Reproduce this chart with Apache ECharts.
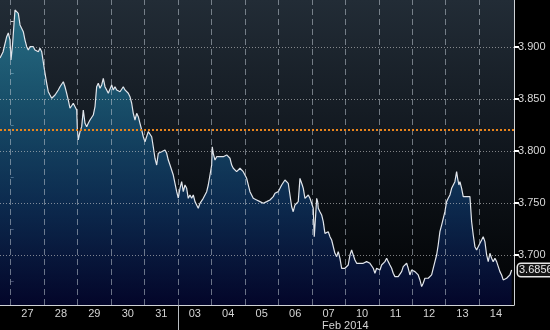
<!DOCTYPE html>
<html><head><meta charset="utf-8">
<script src="https://cdn.jsdelivr.net/npm/echarts@6/dist/echarts.min.js"></script>
<style>html,body{margin:0;padding:0;background:#000;}#c{width:550px;height:330px;}</style>
</head><body><div id="c"></div>
<script>
// x position in trading days since 27 Jan (day start = integer)
const dayPos = [-0.320,-0.230,-0.120,-0.072,-0.021,0.009,0.054,0.128,0.179,0.227,0.278,0.329,0.376,0.427,0.478,0.526,0.577,0.675,0.726,0.777,0.825,0.875,0.926,0.974,1.025,1.076,1.123,1.174,1.225,1.273,1.324,1.374,1.422,1.473,1.524,1.572,1.622,1.673,1.721,1.772,1.823,1.870,1.921,1.972,1.990,2.020,2.071,2.121,2.169,2.220,2.271,2.318,2.369,2.420,2.468,2.519,2.569,2.617,2.668,2.719,2.767,2.817,2.868,2.916,2.967,3.018,3.065,3.116,3.167,3.215,3.266,3.316,3.364,3.415,3.466,3.514,3.564,3.615,3.663,3.714,3.765,3.812,3.863,3.914,3.962,4.012,4.063,4.111,4.162,4.213,4.260,4.311,4.362,4.410,4.511,4.610,4.661,4.709,4.760,4.858,4.960,5.008,5.058,5.109,5.157,5.208,5.258,5.306,5.357,5.408,5.456,5.507,5.557,5.605,5.656,5.707,5.754,5.805,5.856,5.904,5.955,6.005,6.023,6.053,6.104,6.155,6.253,6.352,6.454,6.552,6.603,6.651,6.752,6.851,6.949,7.051,7.150,7.248,7.350,7.449,7.547,7.649,7.747,7.846,7.897,7.995,8.097,8.195,8.246,8.294,8.345,8.396,8.443,8.494,8.545,8.593,8.644,8.674,8.713,8.743,8.793,8.844,8.892,8.943,8.993,9.041,9.071,9.113,9.143,9.173,9.191,9.241,9.292,9.340,9.390,9.441,9.489,9.540,9.591,9.639,9.689,9.740,9.788,9.839,9.890,9.937,9.988,10.039,10.087,10.138,10.188,10.236,10.287,10.338,10.386,10.436,10.487,10.535,10.586,10.636,10.684,10.735,10.786,10.834,10.884,10.935,10.983,11.034,11.084,11.132,11.183,11.234,11.282,11.332,11.383,11.431,11.482,11.533,11.580,11.631,11.682,11.730,11.781,11.832,11.879,11.930,11.981,12.029,12.080,12.130,12.178,12.229,12.280,12.327,12.378,12.429,12.477,12.527,12.578,12.626,12.677,12.728,12.775,12.826,12.877,12.925,12.976,13.026,13.074,13.125,13.176,13.224,13.274,13.325,13.355,13.394,13.424,13.475,13.523,13.573,13.624,13.672,13.723,13.774,13.822,13.872,13.923,13.971,14.022,14.072,14.120,14.171,14.222,14.270,14.320,14.371,14.419,14.470,14.521,14.568,14.619,14.670,14.718,14.769,14.819,14.867,14.918,14.969];
const prices = [3.8894,3.8952,3.9099,3.9135,3.9067,3.8875,3.9019,3.9356,3.9372,3.9324,3.9212,3.9195,3.9147,3.9067,3.9003,3.8971,3.9003,3.9003,3.8971,3.8988,3.8955,3.8988,3.8955,3.8939,3.8747,3.8651,3.8570,3.8538,3.8507,3.8522,3.8538,3.8555,3.8587,3.8618,3.8635,3.8666,3.8618,3.8555,3.8490,3.8411,3.8426,3.8459,3.8474,3.8394,3.8218,3.8106,3.8186,3.8234,3.8394,3.8266,3.8234,3.8266,3.8298,3.8314,3.8346,3.8426,3.8618,3.8651,3.8603,3.8635,3.8699,3.8618,3.8587,3.8555,3.8538,3.8635,3.8587,3.8618,3.8587,3.8603,3.8570,3.8587,3.8618,3.8587,3.8570,3.8555,3.8522,3.8459,3.8362,3.8298,3.8362,3.8330,3.8266,3.8202,3.8137,3.8089,3.8106,3.8186,3.8202,3.8137,3.8041,3.7930,3.7865,3.7978,3.7993,3.8010,3.7978,3.7913,3.7865,3.7769,3.7609,3.7548,3.7641,3.7705,3.7609,3.7673,3.7641,3.7545,3.7577,3.7545,3.7577,3.7513,3.7481,3.7449,3.7497,3.7513,3.7545,3.7561,3.7609,3.7673,3.7769,3.7865,3.8041,3.7978,3.7913,3.7945,3.7945,3.7945,3.7962,3.7930,3.7865,3.7834,3.7801,3.7834,3.7801,3.7737,3.7609,3.7545,3.7529,3.7513,3.7497,3.7513,3.7529,3.7561,3.7593,3.7609,3.7673,3.7721,3.7705,3.7689,3.7577,3.7464,3.7416,3.7481,3.7464,3.7513,3.7737,3.7753,3.7673,3.7641,3.7545,3.7561,3.7577,3.7545,3.7561,3.7449,3.7176,3.7385,3.7545,3.7513,3.7449,3.7416,3.7385,3.7321,3.7208,3.7192,3.7224,3.7176,3.7144,3.7128,3.7016,3.6984,3.7032,3.6968,3.6872,3.6872,3.6872,3.6888,3.6904,3.7000,3.7048,3.7000,3.6952,3.6920,3.6911,3.6920,3.6904,3.6920,3.6904,3.6936,3.6952,3.6920,3.6904,3.6872,3.6824,3.6872,3.6888,3.6856,3.6904,3.6888,3.6936,3.6968,3.6936,3.6904,3.6872,3.6824,3.6792,3.6792,3.6792,3.6808,3.6840,3.6888,3.6904,3.6920,3.6872,3.6808,3.6856,3.6846,3.6840,3.6840,3.6808,3.6760,3.6696,3.6728,3.6776,3.6760,3.6776,3.6776,3.6808,3.6872,3.6936,3.7000,3.7096,3.7224,3.7288,3.7305,3.7416,3.7513,3.7545,3.7577,3.7641,3.7625,3.7705,3.7801,3.7737,3.7673,3.7705,3.7641,3.7561,3.7577,3.7561,3.7577,3.7561,3.7320,3.7192,3.7080,3.7048,3.7080,3.7112,3.7144,3.7176,3.7128,3.7000,3.6936,3.7016,3.6968,3.6936,3.6968,3.6936,3.6936,3.6840,3.6808,3.6760,3.6776,3.6776,3.6792,3.6808,3.6856];
const dayLabels = ['27','28','29','30','31','03','04','05','06','07','10','11','12','13','14'];
const dayCenters = [0.5,1.5,2.5,3.5,4.5,5.5,6.5,7.5,8.5,9.5,10.5,11.5,12.5,13.5,14.5];
const dayStarts = [0,1,2,3,4,5,6,7,8,9,10,11,12,13,14];
const monthStart = 5;
const monthLabel = 'Feb 2014';
const monthLabelPos = 10;
const priceTicks = [3.70,3.75,3.80,3.85,3.90];
const priceMinorTicks = [3.675,3.725,3.775,3.825,3.875,3.925];
const lastPrice = 3.6856;
const refLevel = 3.820;

const X_MIN = -0.32, X_MAX = 15.04, Y_MIN = 3.6519, Y_MAX = 3.9452;
const FONT = 'Liberation Sans, Arial, sans-serif';
const seriesData = dayPos.map((d, i) => [d, prices[i]]);

const chart = echarts.init(document.getElementById('c'), null, {renderer: 'canvas'});
chart.setOption({
  animation: false,
  backgroundColor: '#000',
  grid: {
    left: 0, top: 0, right: 36, bottom: 25, show: true, borderWidth: 0,
    containLabel: false, outerBoundsMode: 'none',
    backgroundColor: new echarts.graphic.LinearGradient(0, 0, 0, 1, [
      {offset: 0, color: '#222c36'}, {offset: 0.5, color: '#10161d'}, {offset: 1, color: '#010203'}
    ])
  },
  xAxis: [{
    type: 'value', min: X_MIN, max: X_MAX,
    axisLine: {show: true, onZero: false, lineStyle: {color: '#cfd2d6', width: 1}},
    axisTick: {show: true, customValues: [monthStart], length: 25, lineStyle: {color: '#b8bcc0', width: 1}},
    axisLabel: {customValues: dayCenters, formatter: v => dayLabels[Math.round(v - 0.5)],
      color: '#d4d4d4', fontSize: 11, fontFamily: FONT, margin: 3},
    splitLine: {show: false}
  }, {
    type: 'value', min: X_MIN, max: X_MAX, position: 'bottom',
    axisLine: {show: false}, axisTick: {show: false}, splitLine: {show: false},
    axisLabel: {customValues: [monthLabelPos], formatter: () => monthLabel,
      color: '#d4d4d4', fontSize: 11, fontFamily: FONT, margin: 15}
  }],
  yAxis: [{
    type: 'value', position: 'right', min: Y_MIN, max: Y_MAX,
    axisLine: {show: true, onZero: false, lineStyle: {color: '#cfd2d6', width: 1}},
    axisTick: {show: true, customValues: priceTicks, length: 5, lineStyle: {color: '#ffffff', width: 2}},
    axisLabel: {
      customValues: priceTicks.concat([lastPrice]), hideOverlap: false,
      formatter: v => Math.abs(v - lastPrice) < 1e-6 ? '{box|' + lastPrice.toFixed(4) + '}' : v.toFixed(3),
      color: '#d8d8d8', fontSize: 11, fontFamily: FONT, margin: 4,
      rich: {box: {color: '#e8e8e8', fontSize: 11, fontFamily: FONT, backgroundColor: '#151515',
        borderColor: '#e6e6e6', borderWidth: 1.5, borderRadius: 3, padding: [1, 1, 0, 1]}}
    },
    splitLine: {show: false}
  }, {
    type: 'value', position: 'right', min: Y_MIN, max: Y_MAX,
    axisLine: {show: false}, axisLabel: {show: false}, splitLine: {show: false},
    axisTick: {show: true, customValues: priceMinorTicks, length: 3, lineStyle: {color: '#cfcfcf', width: 1}}
  }],
  series: [{
    type: 'line', data: seriesData, showSymbol: false, symbol: 'none', z: 3,
    lineStyle: {color: '#e2e6ec', width: 1.2},
    areaStyle: {
      origin: 'start',
      color: new echarts.graphic.LinearGradient(0, 0, 0, 1, [
        {offset: 0, color: '#2a8aa6'}, {offset: 0.3, color: '#1a6688'},
        {offset: 0.65, color: '#0d3768'}, {offset: 1, color: '#04073a'}
      ])
    },
    markLine: {
      silent: true, symbol: ['none', 'none'], label: {show: false}, animation: false,
      data: dayStarts.map(d => ({xAxis: d, lineStyle: {type: [6, 4], color: 'rgba(190,198,208,0.55)', width: 1}}))
        .concat(priceTicks.map(p => ({yAxis: p, lineStyle: {type: [1, 2], color: 'rgba(205,205,205,0.6)', width: 1}})))
        .concat([{yAxis: refLevel, lineStyle: {type: [2, 2], color: '#e8841c', width: 2}}])
    }
  }]
});
</script></body></html>
